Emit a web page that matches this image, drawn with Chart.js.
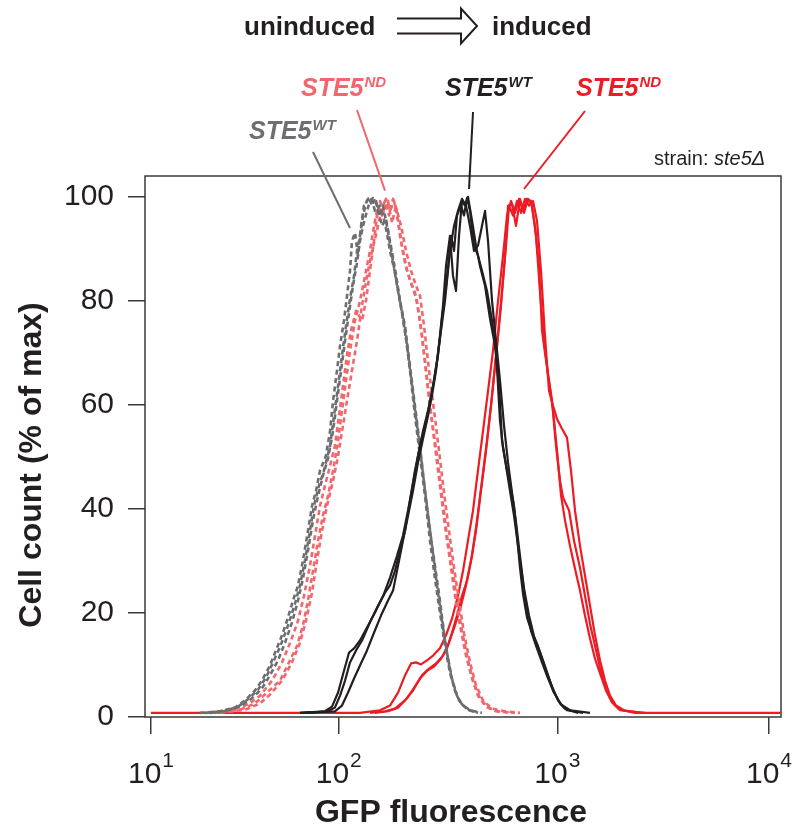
<!DOCTYPE html>
<html lang="en">
<head>
<meta charset="UTF-8">
<title>GFP fluorescence, uninduced vs induced</title>
<script src="https://cdn.jsdelivr.net/npm/chart.js@4.4.1/dist/chart.umd.min.js"></script>
<style>
  html, body { margin: 0; padding: 0; background: #fff; }
  #wrap { width: 796px; height: 829px; }
</style>
</head>
<body>
<div id="wrap"><canvas id="facs" width="796" height="829"></canvas></div>
<script>
// Histogram traces, [GFP fluorescence, % of max]
const wtUninduced1 = [[18.2,0.8],[23.3,1.1],[28.0,1.8],[31.7,3.2],[35.8,5.1],[39.0,7.0],[43.0,9.9],[46.3,12.8],[49.9,15.7],[53.0,18.5],[57.1,22.4],[60.7,25.3],[64.5,30.1],[68.6,35.8],[72.1,40.6],[75.7,43.5],[79.5,47.4],[85.5,50.2],[89.9,55.0],[93.3,60.8],[97.9,66.6],[101.4,71.4],[105.7,76.2],[109.1,80.9],[112.6,85.8],[115.0,91.5],[118.7,93.1],[122.5,88.7],[126.5,94.4],[130.5,98.3],[136.2,99.6],[140.5,100],[146.5,97.3],[154.5,98.3],[162.8,95.0],[171.6,89.6],[180.9,85.4],[190.7,80.0],[201.0,75.2],[211.9,67.5],[223.3,59.8],[235.4,52.1],[248.1,43.5],[261.5,35.8],[275.6,29.1],[290.5,22.4],[306.3,14.7],[322.8,8.9],[340.3,5.1],[358.7,2.8],[390.2,1.4],[433.6,0.8]];
const wtUninduced2 = [[20.6,0.8],[25.7,1.3],[30.5,2.2],[34.5,3.6],[39.0,5.5],[43.0,8.0],[47.5,10.9],[51.8,14.3],[56.4,18.2],[60.7,22.4],[64.5,26.6],[68.6,32.0],[72.9,37.8],[77.6,42.5],[82.4,46.4],[87.7,49.7],[93.3,55.0],[97.9,60.8],[102.5,66.6],[106.9,72.3],[111.5,77.7],[116.2,82.9],[121.2,87.3],[125.1,91.5],[129.2,94.4],[134.7,97.3],[139.0,99.2],[143.5,99.8],[148.1,99.2],[152.8,96.4],[159.4,98.3],[166.3,94.4],[175.3,88.7],[184.8,82.9],[194.7,77.7],[205.3,71.4],[216.4,63.7],[228.1,56.0],[240.4,48.3],[253.4,40.6],[267.1,32.9],[281.5,25.3],[296.7,18.5],[312.8,12.4],[329.7,7.4],[347.5,4.1],[366.3,2.4],[398.5,1.3],[452.2,0.8]];
const wtUninduced3 = [[19.4,0.8],[24.5,1.1],[29.1,2.0],[32.9,3.4],[37.2,5.3],[41.0,7.6],[44.7,10.5],[48.7,13.5],[53.7,17.6],[58.5,21.8],[62.2,25.3],[66.1,30.1],[70.3,35.8],[73.8,40.6],[78.5,44.5],[83.5,47.4],[89.9,52.1],[94.4,57.9],[99.2,63.7],[103.5,69.5],[108.0,75.2],[112.6,80.4],[117.5,84.8],[121.2,89.6],[125.1,92.5],[129.2,96.4],[133.3,98.8],[137.6,99.8],[142.0,98.3],[146.5,99.6],[151.2,97.7],[157.8,94.4],[164.5,95.8],[171.6,91.5],[180.9,86.2],[190.7,80.0],[201.0,74.3],[211.9,66.6],[223.3,57.9],[235.4,50.2],[248.1,42.5],[261.5,33.9],[275.6,26.6],[290.5,20.1],[306.3,13.7],[322.8,8.5],[340.3,5.1],[362.5,2.6],[390.2,1.4],[433.6,0.8]];

const ndUninduced1 = [[21.9,0.8],[29.8,1.4],[35.8,2.6],[41.5,4.7],[48.7,7.0],[55.0,10.9],[60.0,13.7],[64.5,17.6],[68.6,22.4],[72.9,28.1],[77.6,33.9],[82.4,38.7],[87.7,42.5],[93.3,47.4],[99.2,53.1],[103.5,58.9],[108.0,64.7],[112.6,70.4],[118.7,76.2],[125.1,80.0],[131.9,84.8],[139.0,89.6],[145.0,94.4],[151.2,98.3],[157.8,96.4],[164.5,99.6],[171.6,97.3],[179.1,99.2],[186.8,95.4],[194.7,90.6],[205.3,85.8],[216.4,82.9],[228.1,80.0],[240.4,73.3],[253.4,64.7],[267.1,57.0],[281.5,50.2],[296.7,42.5],[312.8,34.9],[329.7,29.1],[347.5,22.4],[366.3,16.6],[390.2,10.9],[415.9,6.4],[442.8,3.6],[482.0,1.8],[535.6,1.1],[640.2,0.8]];
const ndUninduced2 = [[20.6,0.8],[27.0,1.4],[32.9,2.4],[38.1,4.1],[44.2,7.0],[49.9,10.5],[55.7,14.7],[60.7,18.5],[65.3,23.3],[70.3,29.1],[74.8,34.9],[79.5,40.6],[84.5,44.5],[89.9,48.3],[95.4,52.1],[100.3,57.9],[104.6,63.7],[109.1,69.5],[113.8,74.3],[120.0,78.1],[127.8,76.2],[133.3,80.0],[139.0,85.8],[145.0,91.5],[149.7,96.4],[154.5,99.2],[161.1,96.9],[168.1,99.2],[175.3,95.0],[182.9,98.3],[190.7,92.5],[201.0,87.3],[211.9,83.9],[223.3,81.6],[235.4,76.2],[248.1,68.5],[261.5,59.8],[275.6,52.1],[290.5,44.5],[306.3,36.8],[322.8,30.1],[340.3,23.3],[358.7,17.6],[382.2,11.8],[407.3,7.4],[433.6,4.1],[471.8,2.0],[524.4,1.1],[620.6,0.8]];
const ndUninduced3 = [[23.3,0.8],[31.7,1.4],[38.1,2.6],[43.0,4.3],[49.9,7.0],[56.4,10.5],[62.2,14.3],[66.9,18.5],[72.1,23.9],[76.6,30.1],[81.5,35.8],[86.6,40.6],[93.3,45.4],[99.2,50.2],[104.6,56.0],[109.1,60.8],[115.0,66.6],[121.2,72.3],[127.8,79.1],[134.7,84.8],[142.0,89.6],[149.7,93.5],[156.1,97.3],[162.8,99.2],[169.9,96.4],[177.2,99.6],[184.8,97.3],[192.8,94.4],[203.2,89.6],[214.2,85.8],[225.8,82.9],[235.4,81.0],[245.6,75.2],[258.9,66.6],[272.9,58.9],[287.6,51.2],[303.2,43.1],[319.6,35.8],[336.9,28.7],[355.0,22.4],[374.2,16.1],[398.5,10.5],[424.6,6.1],[457.2,3.2],[502.7,1.6],[576.2,1.1],[674.8,0.8]];

const wtInduced1 = [[62.2,0.8],[84.5,1.1],[92.1,2.0],[99.2,4.7],[105.7,8.9],[111.5,12.4],[117.5,13.2],[125.1,14.7],[134.7,17.2],[146.5,20.1],[159.4,23.2],[171.6,26.8],[184.8,31.0],[196.8,34.9],[207.5,39.7],[218.7,44.9],[230.5,50.2],[243.0,55.0],[256.2,58.9],[270.1,63.7],[281.5,68.5],[293.8,74.3],[306.3,80.0],[316.2,85.8],[326.4,92.5],[336.9,89.6],[347.5,96.4],[362.5,98.3],[374.2,96.4],[386.2,99.8],[398.5,97.3],[415.9,90.6],[433.6,88.7],[452.2,85.8],[476.8,81.9],[502.7,76.2],[524.4,70.4],[546.6,57.0],[564.5,51.8],[588.8,47.4],[607.4,44.9],[633.7,40.6],[654.1,34.9],[674.8,28.7],[696.6,23.7],[726.8,19.1],[766.0,16.2],[807.3,14.1],[860.2,10.9],[907.3,8.0],[955.9,5.1],[1030,2.6],[1111,1.3],[1323,0.8]];
const wtInduced2 = [[62.2,0.8],[95.4,1.1],[103.5,2.2],[110.3,4.7],[117.5,7.4],[125.1,9.9],[134.7,12.8],[145.0,16.2],[156.1,19.5],[168.1,22.4],[177.2,24.3],[186.8,29.1],[196.8,33.9],[207.5,38.7],[218.7,43.5],[230.5,48.9],[243.0,53.5],[256.2,57.9],[267.1,61.8],[278.7,66.6],[290.5,73.3],[300.0,79.1],[309.6,86.7],[322.8,92.5],[333.3,84.8],[344.0,81.9],[355.0,92.5],[366.3,99.2],[378.1,98.3],[390.2,100],[407.3,95.4],[424.6,90.6],[442.8,86.7],[466.9,82.9],[492.0,76.6],[518.6,71.4],[541.2,63.7],[558.5,53.1],[582.6,48.3],[607.4,43.5],[633.7,38.7],[661.1,32.9],[689.3,27.2],[719.2,21.4],[757.9,16.6],[798.8,13.7],[851.1,10.5],[907.3,7.4],[965.8,4.7],[1041,2.4],[1148,1.3],[1427,0.8]];
const wtInduced3 = [[66.1,0.8],[87.7,1.1],[95.4,1.8],[101.4,4.1],[106.9,7.0],[112.6,10.5],[120.0,12.8],[127.8,14.7],[139.0,18.2],[151.2,21.4],[162.8,23.9],[171.6,25.3],[180.9,28.1],[190.7,32.0],[201.0,35.8],[211.9,41.6],[223.3,47.4],[235.4,52.1],[248.1,56.0],[261.5,60.4],[272.9,64.7],[284.6,69.5],[296.7,76.6],[309.6,82.9],[322.8,89.6],[336.9,94.4],[351.3,97.3],[366.3,99.6],[382.2,98.3],[398.5,94.4],[415.9,89.6],[433.6,90.6],[452.2,94.4],[466.9,97.3],[482.0,91.5],[502.7,80.0],[524.4,72.3],[546.6,64.7],[570.4,56.0],[595.1,48.9],[620.6,43.1],[647.3,37.4],[674.8,31.0],[704.0,24.7],[742.0,19.5],[782.4,15.5],[833.0,12.4],[887.9,8.9],[945.8,5.9],[1008,3.2],[1087,1.6],[1253,0.8]];

const ndInduced1 = [[10,0.8],[125.1,0.8],[154.5,1.3],[171.6,2.2],[186.8,4.7],[201.0,8.0],[214.2,10.3],[225.8,10.5],[237.9,10.1],[253.4,10.9],[270.1,11.8],[290.5,13.2],[309.6,15.7],[329.7,18.9],[351.3,23.3],[370.4,28.1],[390.2,33.9],[411.5,39.7],[433.6,47.4],[457.2,55.0],[482.0,62.7],[507.9,70.4],[535.6,80.0],[564.5,88.7],[588.8,96.4],[614.1,99.2],[640.2,96.9],[668.0,99.6],[696.6,97.3],[726.8,99.6],[757.9,99.2],[790.3,94.4],[824.5,86.7],[851.1,74.3],[878.0,70.0],[916.2,64.7],[955.9,58.9],[996.9,51.2],[1041,42.6],[1087,37.8],[1148,32.9],[1212,28.5],[1280,24.3],[1351,19.5],[1427,15.1],[1507,11.2],[1591,8.4],[1698,5.1],[1813,2.8],[1978,1.4],[2328,0.8],[11500,0.8]];
const ndInduced2 = [[139.0,0.8],[162.8,1.1],[180.9,1.6],[201.0,3.2],[218.7,5.1],[235.4,7.4],[253.4,8.9],[272.9,9.7],[293.8,11.2],[312.8,13.2],[329.7,16.2],[347.5,19.5],[366.3,23.3],[386.2,26.2],[407.3,31.0],[429.1,37.8],[452.2,45.4],[476.8,53.1],[502.7,61.8],[530.0,71.4],[558.5,81.9],[582.6,90.6],[601.3,98.3],[627.1,96.4],[654.1,99.2],[682.2,96.9],[711.3,99.6],[742.0,98.3],[774.1,99.2],[807.3,95.4],[842.0,85.8],[878.0,73.3],[916.2,62.7],[955.9,59.8],[996.9,57.3],[1052,55.4],[1111,53.7],[1160,47.4],[1212,39.7],[1280,32.9],[1351,27.2],[1427,21.4],[1507,15.7],[1591,10.9],[1680,7.0],[1774,4.1],[1894,2.2],[2066,1.3],[2460,0.8]];
const ndInduced3 = [[146.5,0.8],[168.1,1.1],[186.8,1.8],[205.3,3.6],[223.3,5.9],[240.4,8.0],[258.9,9.3],[278.7,10.3],[300.0,11.8],[319.6,14.3],[340.3,17.6],[362.5,21.4],[382.2,25.3],[402.9,30.1],[424.6,35.8],[447.6,43.5],[471.8,51.2],[497.4,59.8],[524.4,69.5],[552.6,79.1],[576.2,88.7],[595.1,98.3],[620.6,98.6],[647.3,94.4],[674.8,99.6],[704.0,96.9],[734.5,99.6],[766.0,98.3],[798.8,92.5],[833.0,81.9],[869.6,72.3],[907.3,65.6],[945.8,60.8],[986.3,52.1],[1030,45.4],[1064,42.2],[1136,39.7],[1199,33.9],[1280,28.7],[1351,23.3],[1427,17.9],[1507,13.7],[1591,9.5],[1680,6.4],[1774,3.7],[1874,2.2],[1978,1.3],[2596,0.8]];

const xTicks = [10, 100, 1000, 10000];
const yTicks = [0, 20, 40, 60, 80, 100];

// where the peaks the leader lines point at sit, [fluorescence, %]
const leaderTargets = { wtUn: [112.6, 94.0], ndUn: [162.8, 101.2], wtIn: [394.5, 101.5], ndIn: [704, 101.5] };

const FONT = "'Liberation Sans', Arial, Helvetica, sans-serif";
const INK = '#231f20';
const AXIS = '#3a3a3a';
const GRAY = '#6d6e71';
const PINK = '#f2666c';
const BLACK = '#231f20';
const RED = '#ed1c24';

// FlowJo-style log axis: the first decade is drawn a bit narrower than the others
const DECADES = [1, 2, 3, 4];
const DECADE_FRAC = [0.0094, 0.3046, 0.6483, 0.9811];

function logToFrac(l) {
  const i = Math.min(2, Math.max(0, Math.floor(l) - 1));
  return DECADE_FRAC[i] + (l - DECADES[i]) * (DECADE_FRAC[i + 1] - DECADE_FRAC[i]);
}
function fracToLog(f) {
  let i = 0;
  if (f > DECADE_FRAC[2]) i = 2; else if (f > DECADE_FRAC[1]) i = 1;
  return DECADES[i] + (f - DECADE_FRAC[i]) / (DECADE_FRAC[i + 1] - DECADE_FRAC[i]);
}

const LogBase = Chart.LogarithmicScale || Chart.registry.getScale('logarithmic');
class FlowLogScale extends LogBase {
  getPixelForValue(value) {
    if (value === null || value === undefined || isNaN(value) || value <= 0) return NaN;
    return this.getPixelForDecimal(logToFrac(Math.log10(value)));
  }
  getValueForPixel(pixel) {
    return Math.pow(10, fracToLog(this.getDecimalForPixel(pixel)));
  }
}
FlowLogScale.id = 'flowlog';
FlowLogScale.defaults = LogBase.defaults;
Chart.register(FlowLogScale);

function trace(data, color, dotted) {
  return {
    data: data,
    borderColor: color,
    borderWidth: dotted ? 2.6 : 2.2,
    borderDash: dotted ? [5, 3.5] : [],
    borderJoinStyle: 'round',
    pointRadius: 0,
    fill: false,
    tension: 0
  };
}

function textWithSup(ctx, x, y, base, sup, color, size, supSize, raise, italic) {
  const style = italic ? 'italic bold ' : '';
  ctx.fillStyle = color;
  ctx.textAlign = 'left';
  ctx.textBaseline = 'alphabetic';
  ctx.font = style + size + 'px ' + FONT;
  ctx.fillText(base, x, y);
  const w = ctx.measureText(base).width;
  ctx.font = style + supSize + 'px ' + FONT;
  ctx.fillText(sup, x + w + 1, y - raise);
}

function line(ctx, x1, y1, x2, y2, color, width) {
  ctx.strokeStyle = color;
  ctx.lineWidth = width;
  ctx.beginPath();
  ctx.moveTo(x1, y1);
  ctx.lineTo(x2, y2);
  ctx.stroke();
}

const decorations = {
  id: 'decorations',
  beforeDatasetsDraw(chart) {
    const { ctx, chartArea: a } = chart;
    ctx.save();
    ctx.strokeStyle = AXIS;
    ctx.lineWidth = 1.5;
    ctx.strokeRect(a.left, a.top, a.right - a.left, a.bottom - a.top);
    ctx.restore();
  },
  afterDraw(chart) {
    const { ctx } = chart;
    const xs = chart.scales.x, ys = chart.scales.y;
    ctx.save();

    // x tick labels as 10 with a raised exponent
    xTicks.forEach(v => {
      const px = xs.getPixelForValue(v);
      const exp = String(Math.round(Math.log10(v)));
      ctx.font = '30px ' + FONT;
      const w1 = ctx.measureText('10').width;
      ctx.font = '21px ' + FONT;
      const w2 = ctx.measureText(exp).width;
      const x0 = px - (w1 + 1 + w2) / 2;
      textWithSup(ctx, x0, 783, '10', exp, INK, 30, 21, 16, false);
    });

    // axis titles
    ctx.fillStyle = INK;
    ctx.font = 'bold 32px ' + FONT;
    ctx.textAlign = 'center';
    ctx.textBaseline = 'alphabetic';
    ctx.fillText('GFP fluorescence', 451, 822);
    ctx.save();
    ctx.translate(41, 465);
    ctx.rotate(-Math.PI / 2);
    ctx.fillText('Cell count (% of max)', 0, 0);
    ctx.restore();

    // header: uninduced => induced
    ctx.font = 'bold 26px ' + FONT;
    ctx.textAlign = 'left';
    ctx.fillText('uninduced', 244, 35);
    ctx.fillText('induced', 492, 35);
    ctx.strokeStyle = INK;
    ctx.lineWidth = 2;
    ctx.lineJoin = 'miter';
    ctx.beginPath();
    ctx.moveTo(397, 18.5);
    ctx.lineTo(461, 18.5);
    ctx.lineTo(461, 8.5);
    ctx.lineTo(477, 26);
    ctx.lineTo(461, 43.5);
    ctx.lineTo(461, 33.5);
    ctx.lineTo(397, 33.5);
    ctx.stroke();

    // strain note
    ctx.fillStyle = INK;
    ctx.font = '20px ' + FONT;
    ctx.fillText('strain: ', 654, 165);
    const sw = ctx.measureText('strain: ').width;
    ctx.font = 'italic 20px ' + FONT;
    ctx.fillText('ste5\u0394', 654 + sw, 165);

    // trace labels and leader lines
    textWithSup(ctx, 301, 96, 'STE5', 'ND', PINK, 25, 15, 9, true);
    textWithSup(ctx, 249, 139, 'STE5', 'WT', GRAY, 25, 15, 9, true);
    textWithSup(ctx, 445, 96, 'STE5', 'WT', BLACK, 25, 15, 9, true);
    textWithSup(ctx, 576, 96, 'STE5', 'ND', RED, 25, 15, 9, true);

    const end = k => [xs.getPixelForValue(leaderTargets[k][0]), ys.getPixelForValue(leaderTargets[k][1])];
    let p = end('wtUn'); line(ctx, 313, 152, p[0], p[1], GRAY, 2);
    p = end('ndUn'); line(ctx, 357, 110, p[0], p[1], PINK, 2);
    p = end('wtIn'); line(ctx, 473, 112, p[0], p[1], BLACK, 2);
    p = end('ndIn'); line(ctx, 585, 111, p[0], p[1], RED, 2);

    ctx.restore();
  }
};

const tickGrid = { drawOnChartArea: false, drawTicks: true, tickLength: 17, color: AXIS, lineWidth: 1.5 };

new Chart(document.getElementById('facs'), {
  type: 'line',
  data: {
    datasets: [
      trace(wtInduced1, BLACK, false),
      trace(wtInduced2, BLACK, false),
      trace(wtInduced3, BLACK, false),
      trace(wtUninduced1, GRAY, true),
      trace(wtUninduced2, GRAY, true),
      trace(wtUninduced3, GRAY, true),
      trace(ndUninduced1, PINK, true),
      trace(ndUninduced2, PINK, true),
      trace(ndUninduced3, PINK, true),
      trace(ndInduced1, RED, false),
      trace(ndInduced2, RED, false),
      trace(ndInduced3, RED, false)
    ]
  },
  options: {
    responsive: false,
    animation: false,
    events: [],
    layout: { padding: { top: 176, right: 15, left: 0, bottom: 0 } },
    plugins: { legend: { display: false }, tooltip: { enabled: false } },
    scales: {
      x: {
        type: 'flowlog',
        min: 9.3,
        max: 11400,
        afterBuildTicks: s => { s.ticks = xTicks.map(v => ({ value: v })); },
        afterFit: s => { s.height = 112; },
        ticks: { display: false },
        grid: tickGrid,
        border: { display: false }
      },
      y: {
        type: 'linear',
        min: 0,
        max: 104,
        afterBuildTicks: s => { s.ticks = yTicks.map(v => ({ value: v })); },
        afterFit: s => { s.width = 145; },
        ticks: { font: { family: FONT, size: 30 }, color: INK, padding: 14 },
        grid: tickGrid,
        border: { display: false }
      }
    }
  },
  plugins: [decorations]
});
</script>
</body>
</html>
